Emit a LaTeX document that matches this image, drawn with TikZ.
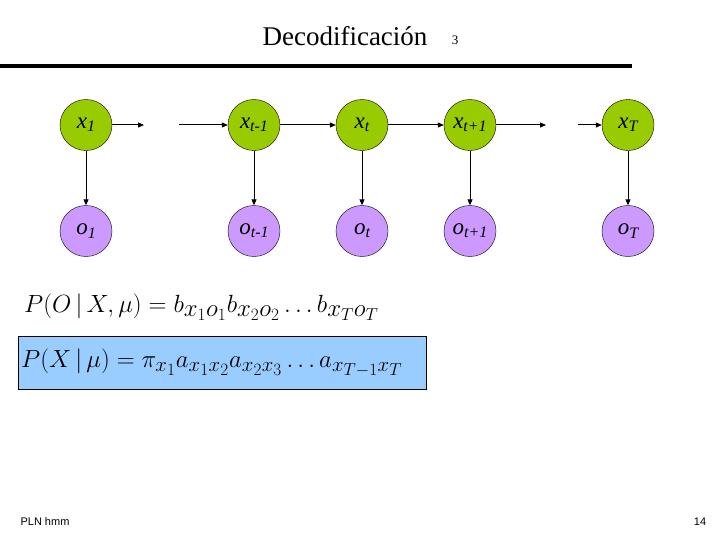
\documentclass[tikz,border=0pt]{standalone}
\usepackage{fontspec}
\setmainfont{Liberation Serif}
\setsansfont{Liberation Sans}
\usetikzlibrary{arrows.meta,shapes.geometric}
\definecolor{xg}{HTML}{99CC00}
\definecolor{op}{HTML}{CC99FF}
\definecolor{bx}{HTML}{99CCFF}
\begin{document}
\begin{tikzpicture}[x=1pt,y=-1pt,
 st/.style={ellipse,draw=black,minimum width=52pt,minimum height=51pt,inner sep=0pt,font=\rmfamily\itshape\fontsize{23}{23}\selectfont},
 xs/.style={st,fill=xg}, os/.style={st,fill=op},
 ar/.style={-{Triangle[length=6pt,width=5pt]},line width=1pt}]
\useasboundingbox (0,0) rectangle (720,540);
\node[font=\fontsize{27}{27}\selectfont] (title) at (345,36) {Decodificación};
\node[font=\fontsize{13}{13}\selectfont] (num) at (455,40) {3};
\draw[line width=4pt] (0,66) -- (632,66);
\foreach \n/\x/\s in {a/86/1,b/254/t-1,c/362/t,d/470/t+1,e/628/T}{
 \node[xs] (x\n) at (\x,125) {x\raisebox{-0.3ex}{\fontsize{16}{16}\selectfont\s}};
 \node[os] (o\n) at (\x,231) {o\raisebox{-0.3ex}{\fontsize{16}{16}\selectfont\s}};
 \draw[ar] (x\n) -- (o\n);
}
\coordinate (p1) at (144,125); \coordinate (p2) at (179,125);
\coordinate (p3) at (546,125); \coordinate (p4) at (578,125);
\draw[ar] (xa) -- (p1); \draw[ar] (p2) -- (xb);
\draw[ar] (xb) -- (xc); \draw[ar] (xc) -- (xd);
\draw[ar] (xd) -- (p3); \draw[ar] (p4) -- (xe);
\node[anchor=west,font=\fontsize{33}{33}\selectfont,inner sep=0pt] (f1) at (24,307)
 {$P(O\,|\,X,\mu)=b_{x_1o_1}b_{x_2o_2}\ldots b_{x_To_T}$};
\node[draw=black,fill=bx,anchor=west,font=\fontsize{32}{32}\selectfont,minimum height=53pt,minimum width=408pt,inner sep=3pt,text width=402pt] (f2) at (18,363)
 {$P(X\,|\,\mu)=\pi_{x_1}a_{x_1x_2}a_{x_2x_3}\ldots a_{x_{T-1}x_T}$};
\node[font=\sffamily\fontsize{11}{11}\selectfont] (foot) at (45,522) {PLN hmm};
\node[font=\sffamily\fontsize{11}{11}\selectfont] (pg) at (700,522) {14};
\end{tikzpicture}
\end{document}
